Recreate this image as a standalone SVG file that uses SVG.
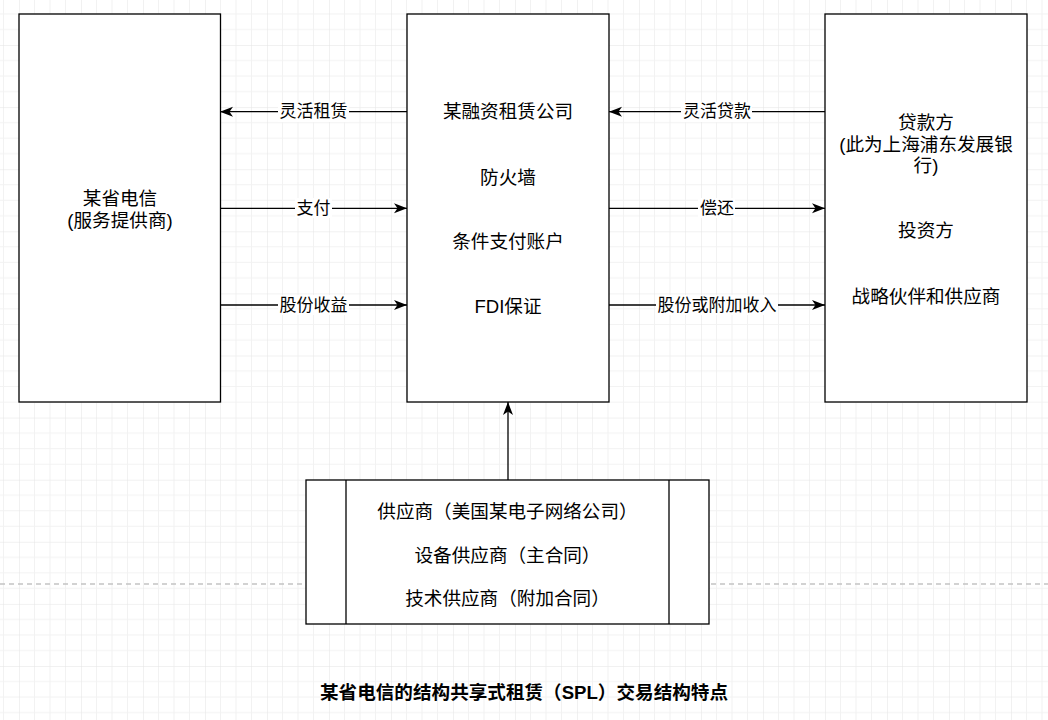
<svg xmlns="http://www.w3.org/2000/svg" width="1048" height="720" viewBox="0 0 1048 720">
<style>
.box{fill:#fff;stroke:#000;stroke-width:1.3}
.t{font-family:"Liberation Sans","Noto Sans CJK SC",sans-serif;font-size:18.6px;fill:#000;text-anchor:middle;dominant-baseline:central}
.lbl{font-family:"Liberation Sans","Noto Sans CJK SC",sans-serif;font-size:17px;fill:#000;text-anchor:middle;dominant-baseline:central}
.edge{stroke:#000;stroke-width:1.3;fill:none;marker-end:url(#arr)}
.lb{fill:#fff}
.title{font-family:"Liberation Sans","Noto Sans CJK SC",sans-serif;font-size:18.6px;font-weight:bold;fill:#000;text-anchor:middle;dominant-baseline:central}
</style>
<defs>
<pattern id="grid" patternUnits="userSpaceOnUse" x="19" y="45" width="62" height="62.1">
<path d="M15.5,0V62.1M31,0V62.1M46.5,0V62.1M0,15.5H62M0,31H62M0,46.6H62" stroke="#f2f2f2" stroke-width="1" fill="none"/>
<path d="M0,0V62.1M0,0H62" stroke="#e4e4e4" stroke-width="1" fill="none"/>
</pattern>
<marker id="arr" markerUnits="userSpaceOnUse" markerWidth="14" markerHeight="12" refX="13" refY="6" orient="auto">
<path d="M0,1 L13,6 L0,11 L3.5,6 Z" fill="#000"/>
</marker>
</defs>
<rect width="1048" height="720" fill="#fff"/>
<rect width="1048" height="720" fill="url(#grid)"/>
<line x1="0" y1="584" x2="1048" y2="584" stroke="#c4c4c4" stroke-width="1.3" stroke-dasharray="5 4"/>

<g id="connectors">
<line class="edge" x1="407" y1="111.7" x2="220" y2="111.7"/>
<line class="edge" x1="220" y1="208.3" x2="407" y2="208.3"/>
<line class="edge" x1="220" y1="305" x2="407" y2="305"/>
<line class="edge" x1="825" y1="111.7" x2="609" y2="111.7"/>
<line class="edge" x1="609" y1="208.3" x2="825" y2="208.3"/>
<line class="edge" x1="609" y1="305" x2="825" y2="305"/>
<line class="edge" x1="508" y1="480" x2="508" y2="402"/>
<rect class="lb" x="278" y="102" width="71" height="20"/>
<text class="lbl" x="313.5" y="111.7">灵活租赁</text>
<rect class="lb" x="295" y="198" width="37" height="20"/>
<text class="lbl" x="313.5" y="208.3">支付</text>
<rect class="lb" x="278" y="295" width="71" height="20"/>
<text class="lbl" x="313.5" y="305">股份收益</text>
<rect class="lb" x="681" y="102" width="71" height="20"/>
<text class="lbl" x="717" y="111.7">灵活贷款</text>
<rect class="lb" x="698" y="198" width="37" height="20"/>
<text class="lbl" x="717" y="208.3">偿还</text>
<rect class="lb" x="656" y="295" width="122" height="20"/>
<text class="lbl" x="717" y="305">股份或附加收入</text>
</g>

<g id="node-telecom">
<rect class="box" x="19" y="14" width="201.5" height="388"/>
<text class="t" x="120" y="198.3">某省电信</text>
<text class="t" x="120" y="220">(服务提供商)</text>
</g>

<g id="node-leasing">
<rect class="box" x="407" y="14" width="202" height="388"/>
<text class="t" x="508" y="111.7">某融资租赁公司</text>
<text class="t" x="508" y="177">防火墙</text>
<text class="t" x="508" y="241.7">条件支付账户</text>
<text class="t" x="508" y="306.7">FDI保证</text>
</g>

<g id="node-lender">
<rect class="box" x="825" y="14" width="202" height="388"/>
<text class="t" x="926" y="122.7">贷款方</text>
<text class="t" x="926" y="144.5">(此为上海浦东发展银</text>
<text class="t" x="926" y="165.5">行)</text>
<text class="t" x="926" y="230.7">投资方</text>
<text class="t" x="926" y="296">战略伙伴和供应商</text>
</g>

<g id="node-supplier">
<rect class="box" x="306" y="480" width="403" height="144"/>
<line x1="346" y1="480" x2="346" y2="624" stroke="#000" stroke-width="1.3"/>
<line x1="669" y1="480" x2="669" y2="624" stroke="#000" stroke-width="1.3"/>
<text class="t" x="507.5" y="511.7">供应商（美国某电子网络公司）</text>
<text class="t" x="507.5" y="555">设备供应商（主合同）</text>
<text class="t" x="507.5" y="598.3">技术供应商（附加合同）</text>
</g>

<g id="title">
<text class="title" x="524" y="692">某省电信的结构共享式租赁（SPL）交易结构特点</text>
</g>
</svg>
